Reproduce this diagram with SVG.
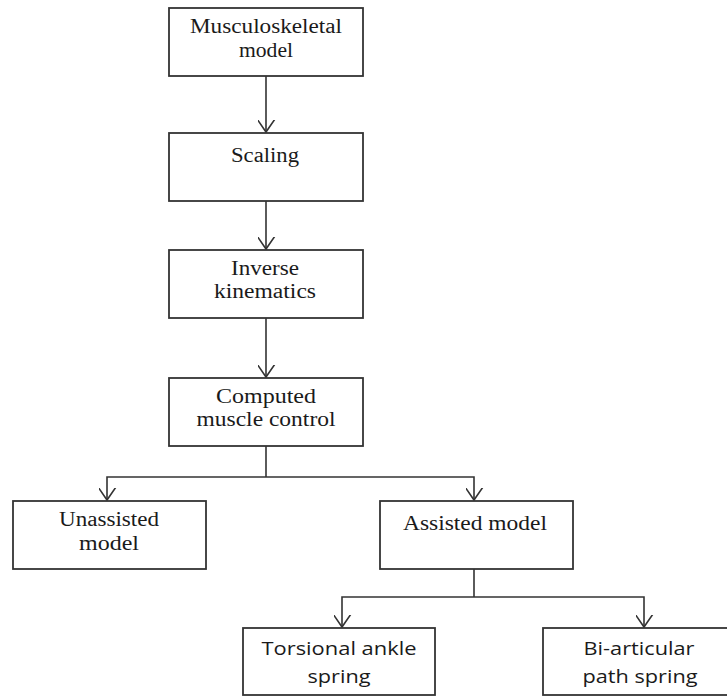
<svg xmlns="http://www.w3.org/2000/svg" width="727" height="696" viewBox="0 0 727 696">
<style>
.box{fill:#fff;stroke:#333;stroke-width:1.8}
.con{fill:none;stroke:#333;stroke-width:1.6}
.serif{font-family:"Liberation Serif","DejaVu Serif",serif;font-size:20px;fill:#1a1a1a;text-anchor:middle}
.sans{font-family:"Open Sans","Liberation Sans",sans-serif;font-size:18px;fill:#1a1a1a;text-anchor:middle}
</style>
<defs>
<marker id="arr" markerUnits="userSpaceOnUse" markerWidth="24" markerHeight="24" refX="12" refY="16" viewBox="0 0 24 24" orient="auto-start-reverse">
<path d="M3,3 L12,16 L21,3" transform="rotate(-90 12 16)" fill="none" stroke="#333" stroke-width="1.6"/>
</marker>
</defs>
<rect width="727" height="696" fill="#fff"/>
<g id="connectors">
<line class="con" x1="266" y1="76" x2="266" y2="132" marker-end="url(#arr)"/>
<line class="con" x1="266" y1="201" x2="266" y2="249" marker-end="url(#arr)"/>
<line class="con" x1="266" y1="318" x2="266" y2="377" marker-end="url(#arr)"/>
<polyline class="con" points="266,446 266,477"/>
<polyline class="con" points="266,477 107,477 107,500" marker-end="url(#arr)"/>
<polyline class="con" points="266,477 474,477 474,500" marker-end="url(#arr)"/>
<polyline class="con" points="474,569 474,597"/>
<polyline class="con" points="474,597 342,597 342,627" marker-end="url(#arr)"/>
<polyline class="con" points="474,597 644,597 644,627" marker-end="url(#arr)"/>
</g>
<g id="musculoskeletal">
<rect class="box" x="169" y="8" width="194" height="68"/>
<text class="serif" x="266" y="33" textLength="152" lengthAdjust="spacingAndGlyphs">Musculoskeletal</text>
<text class="serif" x="266" y="57" textLength="54" lengthAdjust="spacingAndGlyphs">model</text>
</g>
<g id="scaling">
<rect class="box" x="169" y="133" width="194" height="68"/>
<text class="serif" x="265" y="162" textLength="68" lengthAdjust="spacingAndGlyphs">Scaling</text>
</g>
<g id="inverse">
<rect class="box" x="169" y="250" width="194" height="68"/>
<text class="serif" x="265" y="275" textLength="68" lengthAdjust="spacingAndGlyphs">Inverse</text>
<text class="serif" x="265" y="298" textLength="102" lengthAdjust="spacingAndGlyphs">kinematics</text>
</g>
<g id="computed">
<rect class="box" x="169" y="378" width="194" height="68"/>
<text class="serif" x="266" y="403" textLength="100" lengthAdjust="spacingAndGlyphs">Computed</text>
<text class="serif" x="266" y="426" textLength="139" lengthAdjust="spacingAndGlyphs">muscle control</text>
</g>
<g id="unassisted">
<rect class="box" x="13" y="501" width="193" height="68"/>
<text class="serif" x="109" y="526" textLength="100" lengthAdjust="spacingAndGlyphs">Unassisted</text>
<text class="serif" x="109" y="550" textLength="60" lengthAdjust="spacingAndGlyphs">model</text>
</g>
<g id="assisted">
<rect class="box" x="380" y="501" width="193" height="68"/>
<text class="serif" x="475" y="530" textLength="144" lengthAdjust="spacingAndGlyphs">Assisted model</text>
</g>
<g id="torsional">
<rect class="box" x="243" y="628" width="192" height="67"/>
<text class="sans" x="339" y="655" textLength="155" lengthAdjust="spacingAndGlyphs">Torsional ankle</text>
<text class="sans" x="339" y="683" textLength="63" lengthAdjust="spacingAndGlyphs">spring</text>
</g>
<g id="biarticular">
<rect class="box" x="543" y="628" width="195" height="67"/>
<text class="sans" x="639" y="655" textLength="111" lengthAdjust="spacingAndGlyphs">Bi-articular</text>
<text class="sans" x="640" y="683" textLength="115" lengthAdjust="spacingAndGlyphs">path spring</text>
</g>
</svg>
